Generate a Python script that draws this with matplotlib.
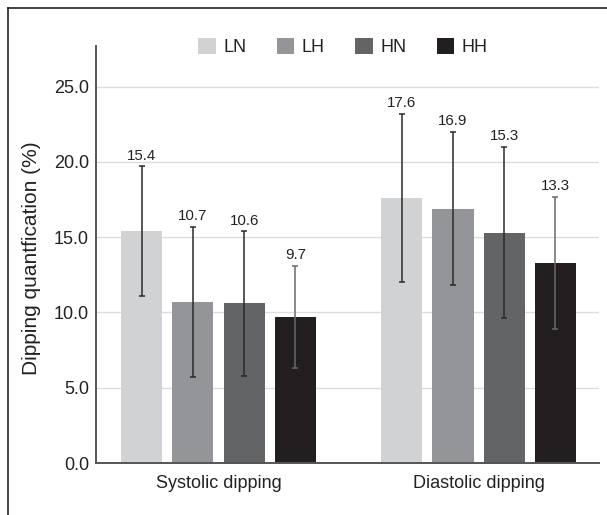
import matplotlib
matplotlib.use("Agg")
import matplotlib.pyplot as plt
import numpy as np
from matplotlib.lines import Line2D

plt.rcParams['font.family'] = ['Liberation Sans', 'DejaVu Sans']

categories = ["Systolic dipping", "Diastolic dipping"]
groups = ["LN", "LH", "HN", "HH"]
means = {
    "LN": [15.4, 17.6],
    "LH": [10.7, 16.9],
    "HN": [10.6, 15.3],
    "HH": [9.7, 13.3],
}
sds = {
    "LN": [4.3, 5.6],
    "LH": [5.0, 5.1],
    "HN": [4.8, 5.7],
    "HH": [3.4, 4.4],
}
colors = {"LN": "#d1d2d4", "LH": "#939598", "HN": "#636466", "HH": "#231f20"}
err_colors = {"LN": "#2a2a2a", "LH": "#2a2a2a", "HN": "#2a2a2a", "HH": "#6a6a6a"}
yticks = [0, 5, 10, 15, 20, 25]

W, H = 607, 515
fig = plt.figure(figsize=(W / 100, H / 100), dpi=100)
ax = fig.add_axes([96 / W, 1 - 463 / H, (599 - 96) / W, (463 - 46) / H])

x = np.arange(len(categories))
step = 0.197
width = 0.158
handles = []
for i, g in enumerate(groups):
    pos = x + (i - 1.5) * step
    b = ax.bar(pos, means[g], width, color=colors[g], zorder=2, label=g)
    handles.append(b)
    ax.errorbar(pos, means[g], yerr=sds[g], fmt='none', ecolor=err_colors[g],
                elinewidth=1.1, capsize=2.0, capthick=1.1, zorder=3)
    for xp, m, s in zip(pos, means[g], sds[g]):
        ax.annotate(f"{m:.1f}", (xp, m + s), xytext=(0, 2.5), textcoords='offset points',
                    ha='center', va='bottom', fontsize=10.8, color='#222222')

ax.set_xlim(-0.471, 1.463)
ax.set_ylim(0, 27.7)
ax.set_yticks(yticks)
ax.set_yticklabels([f"{v:.1f}" for v in yticks])
ax.set_xticks(x)
ax.set_xticklabels(categories)
ax.tick_params(axis='y', length=0, pad=5, labelsize=13, labelcolor='#222222')
ax.tick_params(axis='x', length=0, pad=8.5, labelsize=13, labelcolor='#222222')

ax.yaxis.grid(True, color='#dcdcdc', linewidth=1.0, zorder=0)
ax.set_axisbelow(True)
for s in ['top', 'right']:
    ax.spines[s].set_visible(False)
for s in ['left', 'bottom']:
    ax.spines[s].set_color('#555555')
    ax.spines[s].set_linewidth(1.4)

ax.set_ylabel("Dipping quantfication (%)", fontsize=15, color='#222222', va='center')
ax.yaxis.set_label_coords((32 - 96) / (599 - 96), (463 - 258) / (463 - 46))

fig.legend(handles=handles, labels=groups, loc='center', ncol=4, frameon=False,
           bbox_to_anchor=(343 / W, 1 - 47 / H), fontsize=13,
           handlelength=0.97, handleheight=0.97, handletextpad=0.4,
           columnspacing=1.7, borderpad=0, labelcolor='#222222')

# figure frame (top and left edges)
fig.add_artist(Line2D([8 / W, 8 / W], [0, 1 - 7.5 / H], color='#111111', linewidth=1.1,
                      transform=fig.transFigure))
fig.add_artist(Line2D([8 / W, 1], [1 - 7.5 / H, 1 - 7.5 / H], color='#111111', linewidth=1.1,
                      transform=fig.transFigure))

fig.savefig("out.png", dpi=100)
